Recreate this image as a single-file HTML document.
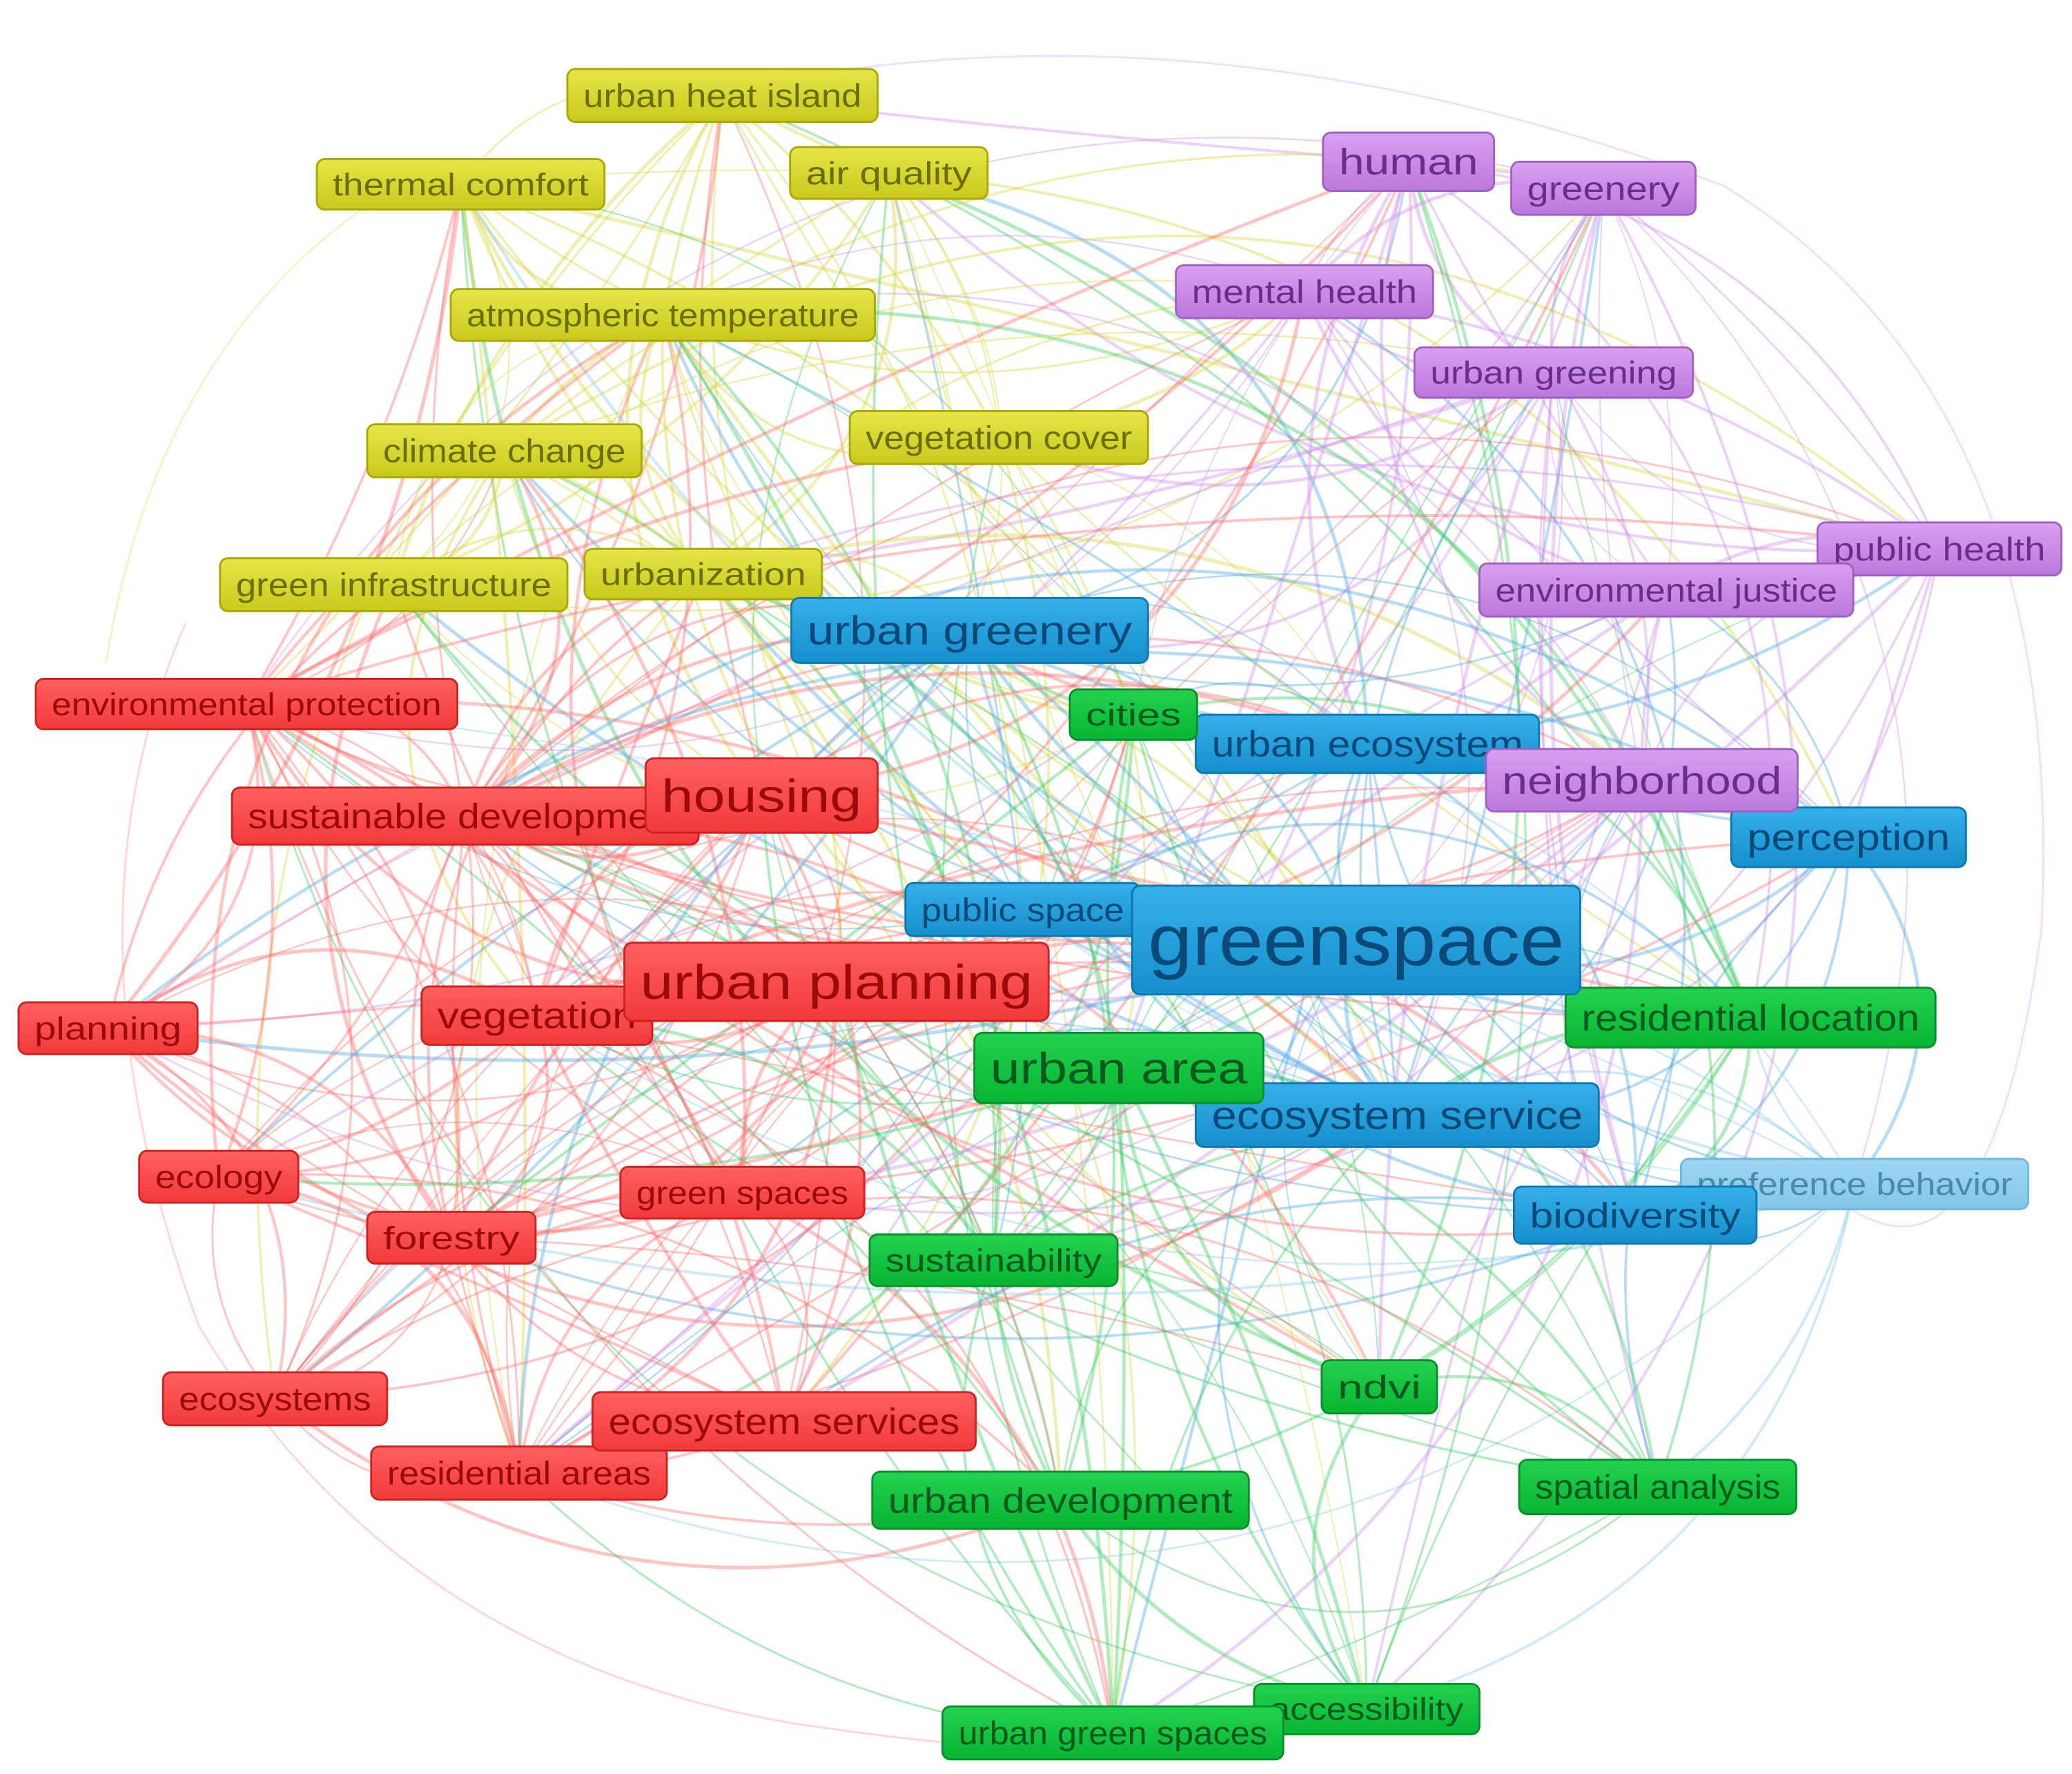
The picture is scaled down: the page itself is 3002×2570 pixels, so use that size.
<!DOCTYPE html>
<html><head><meta charset="utf-8">
<style>
html,body{margin:0;padding:0;background:#fff;}
svg{display:block;}
text{font-family:"Liberation Sans",sans-serif;}
</style></head>
<body>
<svg id="s" width="3002" height="2570" viewBox="0 0 1563 1338" preserveAspectRatio="none" xmlns="http://www.w3.org/2000/svg">
<defs>
<linearGradient id="gy" x1="0" y1="0" x2="0" y2="1"><stop offset="0" stop-color="#e6e64a"/><stop offset="1" stop-color="#c9c91c"/></linearGradient>
<linearGradient id="gp" x1="0" y1="0" x2="0" y2="1"><stop offset="0" stop-color="#d9a0f0"/><stop offset="1" stop-color="#bc78dc"/></linearGradient>
<linearGradient id="gb" x1="0" y1="0" x2="0" y2="1"><stop offset="0" stop-color="#36b0ea"/><stop offset="1" stop-color="#1590cc"/></linearGradient>
<linearGradient id="gg" x1="0" y1="0" x2="0" y2="1"><stop offset="0" stop-color="#22d350"/><stop offset="1" stop-color="#08b433"/></linearGradient>
<linearGradient id="gr" x1="0" y1="0" x2="0" y2="1"><stop offset="0" stop-color="#ff6060"/><stop offset="1" stop-color="#f23a3a"/></linearGradient>
<linearGradient id="gl" x1="0" y1="0" x2="0" y2="1"><stop offset="0" stop-color="#9fd6f2"/><stop offset="1" stop-color="#84c6ea"/></linearGradient>
</defs>
<g id="edges"></g>
<g id="nodes"></g>
</svg>
<script>
var N=[
["urban heat island",428,52,662,92,"y"],["thermal comfort",239,120,456,158,"y"],["air quality",596,111,745,150,"y"],
["atmospheric temperature",340,218,660,257,"y"],["climate change",277,320,484,360,"y"],["vegetation cover",641,310,866,350,"y"],
["green infrastructure",166,421,428,461,"y"],["urbanization",441,414,620,452,"y"],
["human",998,100,1127,144,"p"],["greenery",1140,122,1279,162,"p"],["mental health",887,200,1081,240,"p"],
["urban greening",1067,262,1277,300,"p"],["public health",1371,394,1555,434,"p"],["environmental justice",1116,425,1398,465,"p"],
["urban greenery",597,451,866,500,"b"],["urban ecosystem",902,539,1161,583,"b"],["perception",1306,609,1483,654,"b"],
["public space",683,666,860,706,"b"],["ecosystem service",902,817,1206,865,"b"],["preference behavior",1268,874,1530,912,"l"],
["biodiversity",1142,895,1325,938,"b"],
["cities",807,520,903,558,"g"],["residential location",1181,745,1460,790,"g"],
["sustainability",656,931,843,970,"g"],["ndvi",997,1026,1084,1066,"g"],["urban development",658,1110,942,1153,"g"],
["spatial analysis",1146,1101,1355,1142,"g"],["accessibility",946,1270,1116,1308,"g"],["urban green spaces",711,1287,968,1327,"g"],
["environmental protection",27,512,345,550,"r"],["sustainable development",175,594,527,637,"r"],["housing",487,572,662,628,"r"],
["neighborhood",1121,565,1356,612,"p"],
["planning",14,756,149,795,"r"],["vegetation",318,744,492,788,"r"],["urban planning",471,711,791,770,"r"],
["urban area",735,779,953,832,"g"],["greenspace",854,668,1192,750,"b"],
["ecology",105,868,225,907,"r"],["green spaces",468,880,652,919,"r"],["forestry",277,914,404,953,"r"],
["ecosystems",123,1035,292,1075,"r"],["residential areas",280,1091,503,1131,"r"],["ecosystem services",447,1050,736,1094,"r"]
];
var C={y:["url(#gy)","#a8a800","#6e6e00","#d8d840"],p:["url(#gp)","#a060c0","#6b2d8c","#cf8fe8"],b:["url(#gb)","#0d78b0","#0b4a78","#4aa8e0"],
g:["url(#gg)","#07902a","#075a1c","#3ccc60"],r:["url(#gr)","#d02020","#9a0a0a","#ff6b6b"],l:["url(#gl)","#70b8e0","#4a88b0","#8ccbef"]};
var seed=7;function rnd(){seed=(seed*16807)%2147483647;return seed/2147483647;}
var E=document.getElementById("edges"),G=document.getElementById("nodes");
function cx(n){return (n[1]+n[3])/2}function cy(n){return (n[2]+n[4])/2}
var s="";
for(var i=0;i<N.length;i++)for(var j=i+1;j<N.length;j++){
 var a=N[i],b=N[j],same=a[5]==b[5]||(a[5]=="l"&&b[5]=="b")||(a[5]=="b"&&b[5]=="l");
 var big=(a[3]-a[1]>300||b[3]-b[1]>300)?0.25:0;
 if(rnd()<(same?0.75:0.3)+big){
  var x1=cx(a),y1=cy(a),x2=cx(b),y2=cy(b),dx=x2-x1,dy=y2-y1;
  var k=(rnd()*0.8-0.4);var mx=(x1+x2)/2-dy*k,my=(y1+y2)/2+dx*k;
  var col=C[rnd()<0.5?a[5]:b[5]][3];
  s+='<path d="M'+x1+' '+y1+'Q'+mx+' '+my+' '+x2+' '+y2+'" fill="none" stroke="'+col+'" stroke-width="'+(1+rnd()*1.8).toFixed(1)+'" opacity="0.4"/>';
 }}
s+='<path d="M140 470 Q40 700 150 1000 Q300 1250 600 1300 Q800 1330 840 1310" fill="none" stroke="#ff8a8a" stroke-width="1.5" opacity="0.35"/>';
s+='<path d="M540 70 Q900 -10 1300 140 Q1560 300 1540 700 Q1500 1000 1380 900" fill="none" stroke="#d8a0f0" stroke-width="1.5" opacity="0.35"/>';
s+='<path d="M300 140 Q120 250 80 500" fill="none" stroke="#dede60" stroke-width="1.5" opacity="0.35"/>';
E.innerHTML=s;
var t="";
N.forEach(function(n){var w=n[3]-n[1],h=n[4]-n[2],c=C[n[5]],fs=h*0.62;
 if(h>70)fs=h*0.66;
 t+='<rect x="'+n[1]+'" y="'+n[2]+'" width="'+w+'" height="'+h+'" rx="6" fill="'+c[0]+'" stroke="'+c[1]+'" stroke-width="1.5"/>';
 t+='<text x="'+(n[1]+w/2)+'" y="'+(n[2]+h/2+fs*0.35)+'" font-size="'+fs.toFixed(1)+'" text-anchor="middle" fill="'+c[2]+'" textLength="'+(w-24)+'" lengthAdjust="spacingAndGlyphs">'+n[0]+'</text>';
});
G.innerHTML=t;
</script>
</body></html>
